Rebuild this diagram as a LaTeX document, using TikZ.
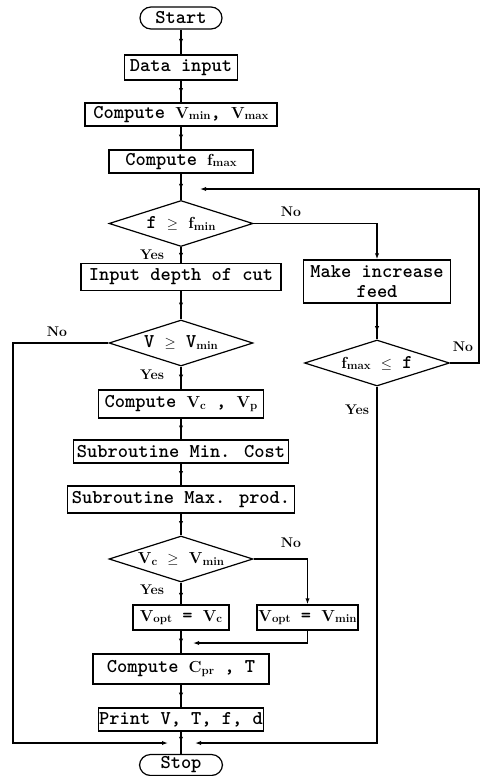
\documentclass[tikz,border=0pt]{standalone}
\usetikzlibrary{arrows.meta,shapes.geometric,decorations.markings}
\newcommand{\sbs}[1]{\raisebox{-1.5pt}{\fontsize{11.5}{11.5}\selectfont\rmfamily\bfseries #1}}
\newcommand{\bV}{{\fontsize{16}{16}\selectfont\rmfamily\bfseries V}}
\newcommand{\bC}{{\fontsize{16}{16}\selectfont\rmfamily\bfseries C}}
\newcommand{\bF}{{\fontsize{16}{16}\selectfont\rmfamily\bfseries f}}
\newcommand{\rel}[1]{{\fontsize{15}{15}\selectfont$#1$}}
\begin{document}
\begin{tikzpicture}[x=1pt,y=-1pt,line width=1.2pt,
  every node/.style={font=\fontsize{19.5}{20}\selectfont\ttfamily\bfseries,inner sep=0pt},
  box/.style={draw,rectangle},
  term/.style={draw,rectangle,rounded corners=11pt,minimum width=82pt,minimum height=22pt},
  dia/.style={draw,diamond,aspect=3,minimum width=144pt,minimum height=46pt},
  lab/.style={font=\fontsize{14}{14}\selectfont\rmfamily\bfseries},
  arr/.style={-{Latex[length=6pt,width=4.2pt]}},
  midarr/.style={postaction={decorate},decoration={markings,
     mark=at position #1 with {\arrow{Latex[length=6pt,width=4.2pt]}}}},
  midarr/.default=0.62]
\useasboundingbox (0,0) rectangle (481,776);
% main column
\node[term] (start) at (181,18) {Start};
\node[box,minimum width=113pt,minimum height=25pt] (data) at (181,67.5) {Data input};
\node[box,minimum width=192pt,minimum height=23pt] (cvm) at (181,114.5) {Compute \bV\sbs{min}, \bV\sbs{max}};
\node[box,minimum width=144pt,minimum height=23pt] (cfm) at (181,161.5) {Compute \bF\sbs{max}};
\node[dia] (d1) at (181,223.5) {f \rel{\geq} \bF\sbs{min}};
\node[box,minimum width=200pt,minimum height=27pt] (idc) at (181,277) {Input depth of cut};
\node[dia] (d2) at (181,343) {V \rel{\geq} V\sbs{min}};
\node[box,minimum width=165pt,minimum height=28pt] (cvc) at (181,404) {Compute \bV\sbs{c} , \bV\sbs{p}};
\node[box,minimum width=215pt,minimum height=23pt] (smc) at (181,451.5) {Subroutine Min. Cost};
\node[box,minimum width=227pt,minimum height=27pt] (smp) at (181,499.5) {Subroutine Max. prod.};
\node[dia] (d4) at (181,559) {\bV\sbs{c} \rel{\geq} \bV\sbs{min}};
\node[box,minimum width=96pt,minimum height=25pt] (vc) at (181,617.5) {\bV\sbs{opt} = \bV\sbs{c}};
\node[box,minimum width=101pt,minimum height=25pt] (vm) at (307.5,617.5) {\bV\sbs{opt} = \bV\sbs{min}};
\node[box,minimum width=176pt,minimum height=30pt] (cpr) at (181,669) {Compute \bC\sbs{pr} , T};
\node[box,minimum width=165pt,minimum height=23pt] (prt) at (181,719.5) {Print V, T, f, d};
\node[term,minimum width=83pt,minimum height=21pt] (stop) at (181,765) {Stop};
% right column
\node[box,minimum width=147pt,minimum height=43pt,align=center] (mif) at (377,281.5) {Make increase\\feed};
\node[dia,minimum width=145pt] (d3) at (377,363) {\bF\sbs{max} \rel{\leq} f};
% labels
\node[lab] (l1) at (291,212) {No};
\node[lab] (l2) at (152,255) {Yes};
\node[lab] (l3) at (57,332) {No};
\node[lab] (l4) at (152,375) {Yes};
\node[lab] (l5) at (463,347) {No};
\node[lab] (l6) at (357,410) {Yes};
\node[lab] (l7) at (291,543) {No};
\node[lab] (l8) at (152,590) {Yes};
% free ends / corners
\coordinate (rc) at (479,189);
\coordinate (lt) at (200,189);
\coordinate (lc) at (13,743);
\coordinate (bl) at (168,743);
\coordinate (br) at (195,743);
\coordinate (mt) at (193,643);
% connectors
\draw[midarr] (start) -- (data);
\draw[midarr] (data) -- (cvm);
\draw[midarr] (cvm) -- (cfm);
\draw[midarr] (cfm) -- (d1);
\draw[midarr=0.75] (d1) -- (idc);
\draw[midarr] (idc) -- (d2);
\draw[midarr] (d2) -- (cvc);
\draw[midarr] (cvc) -- (smc);
\draw[midarr] (smc) -- (smp);
\draw[midarr] (smp) -- (d4);
\draw[midarr=0.75] (d4) -- (vc);
\draw[midarr] (vc) -- (cpr);
\draw[midarr] (cpr) -- (prt);
\draw[midarr=0.5] (prt) -- (stop);
\draw[arr] (d1.east) -| (mif.north);
\draw[midarr=0.8] (mif) -- (d3);
\draw[arr] (d3.east) -| (rc) -- (lt);
\draw[arr] (d3.south) |- (br);
\draw[arr] (d2.west) -| (lc) -- (bl);
\draw[arr] (d4.east) -| (vm.north);
\draw[arr] (vm.south) |- (mt);
\end{tikzpicture}
\end{document}
